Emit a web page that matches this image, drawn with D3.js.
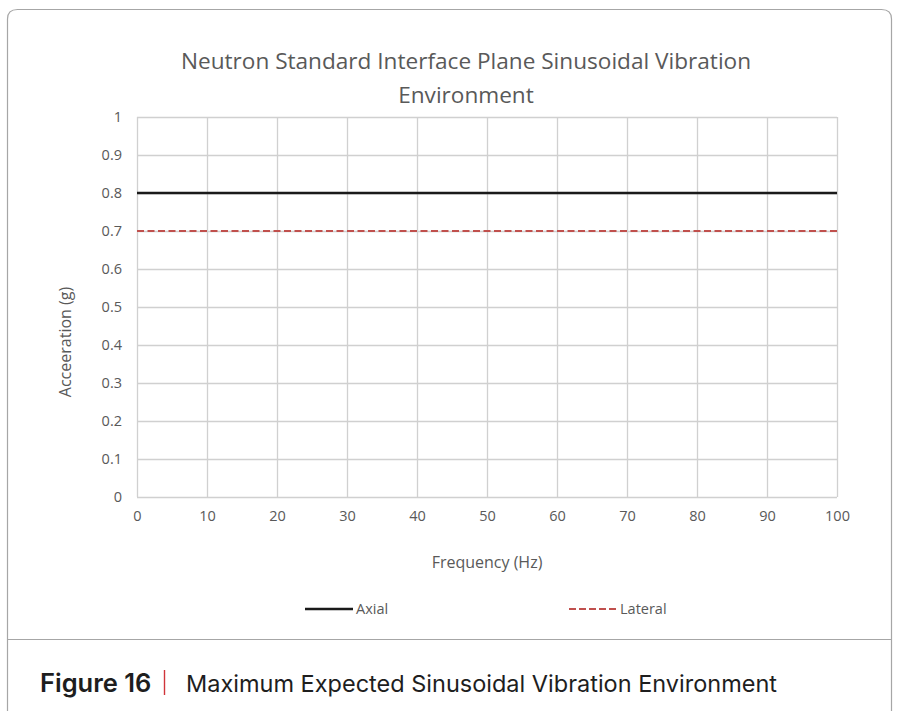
<!DOCTYPE html>
<html>
<head>
<meta charset="utf-8">
<script src="https://cdn.jsdelivr.net/npm/d3@7"></script>
<style>
  body { margin: 0; background: #fff; }
  svg { display: block; }
</style>
</head>
<body>
<svg id="chart" width="898" height="711"></svg>
<script>
// values
const freqHz = [0, 100];
const axial = [0.8, 0.8];
const lateral = [0.7, 0.7];
const xTicks = [0, 10, 20, 30, 40, 50, 60, 70, 80, 90, 100];
const yTicks = [0, 0.1, 0.2, 0.3, 0.4, 0.5, 0.6, 0.7, 0.8, 0.9, 1];
const seriesNames = ["Axial", "Lateral"];

const svg = d3.select("#chart");
const chartFont = "'Open Sans', 'Noto Sans', sans-serif";
const grey = "#595959";

// card outline + caption divider
svg.append("path")
   .attr("d", "M7.5,720 V19 Q7.5,9.5 17.5,9.5 H881.5 Q891.5,9.5 891.5,19 V720")
   .attr("fill", "none").attr("stroke", "#a6a6a6").attr("stroke-width", 1.2);
svg.append("line").attr("x1", 7.5).attr("x2", 891.5).attr("y1", 639.5).attr("y2", 639.5)
   .attr("stroke", "#a6a6a6").attr("stroke-width", 1.2);

const plotL = 137, plotR = 837, plotT = 117, plotB = 497;
const x = d3.scaleLinear().domain([0, 100]).range([plotL, plotR]);
const y = d3.scaleLinear().domain([0, 1]).range([plotB, plotT]);

// grid
svg.append("g").selectAll("line").data(yTicks).join("line")
   .attr("x1", plotL).attr("x2", plotR)
   .attr("y1", d => Math.round(y(d)) + 0.5).attr("y2", d => Math.round(y(d)) + 0.5)
   .attr("stroke", "#d0d0d0").attr("stroke-width", 1.3);
svg.append("g").selectAll("line").data(xTicks).join("line")
   .attr("y1", plotT).attr("y2", plotB)
   .attr("x1", d => Math.round(x(d)) + 0.5).attr("x2", d => Math.round(x(d)) + 0.5)
   .attr("stroke", "#d0d0d0").attr("stroke-width", 1.3);

// axes (labels only)
const yAxis = svg.append("g").attr("transform", `translate(${plotL},0)`)
   .call(d3.axisLeft(y).tickValues(yTicks).tickSize(0).tickPadding(15).tickFormat(d3.format("")));
const xAxis = svg.append("g").attr("transform", `translate(0,${plotB})`)
   .call(d3.axisBottom(x).tickValues(xTicks).tickSize(0).tickPadding(14));
[xAxis, yAxis].forEach(a => {
  a.select(".domain").remove();
  a.selectAll("text").attr("fill", grey).attr("font-size", 14.5).attr("font-family", chartFont);
});

// series
const line = d3.line().x((d, i) => x(freqHz[i])).y(d => y(d));
svg.append("path").datum(axial).attr("d", line)
   .attr("fill", "none").attr("stroke", "#1a1a1a").attr("stroke-width", 2.6);
svg.append("path").datum(lateral).attr("d", line)
   .attr("fill", "none").attr("stroke", "#c0504d").attr("stroke-width", 2)
   .attr("stroke-dasharray", "7,3.5");

// titles
const title = svg.append("text").attr("text-anchor", "middle").attr("fill", grey)
   .attr("font-family", chartFont).attr("font-size", 22.6);
title.append("tspan").attr("x", 466).attr("y", 69).text("Neutron Standard Interface Plane Sinusoidal Vibration");
title.append("tspan").attr("x", 466).attr("y", 103).text("Environment");

svg.append("text").attr("x", 487).attr("y", 568).attr("text-anchor", "middle")
   .attr("fill", grey).attr("font-family", chartFont).attr("font-size", 16)
   .text("Frequency (Hz)");
svg.append("text").attr("transform", "translate(71,342) rotate(-90)").attr("text-anchor", "middle")
   .attr("fill", grey).attr("font-family", chartFont).attr("font-size", 16)
   .text("Acceeration (g)");

// legend
const legendX = [305, 569];
const legend = svg.append("g").selectAll("g").data(seriesNames).join("g")
   .attr("transform", (d, i) => `translate(${legendX[i]},609)`);
legend.append("line").attr("x1", 0).attr("x2", 48).attr("y1", 0).attr("y2", 0)
   .attr("stroke", (d, i) => i ? "#c0504d" : "#1a1a1a")
   .attr("stroke-width", (d, i) => i ? 2 : 2.6)
   .attr("stroke-dasharray", (d, i) => i ? "7,3" : null);
legend.append("text").attr("x", 51).attr("y", 5).attr("fill", grey)
   .attr("font-family", chartFont).attr("font-size", 14.5).text(d => d);

// figure caption
const capFont = "Inter, 'Noto Sans', sans-serif";
svg.append("text").attr("x", 40).attr("y", 692)
   .attr("font-family", capFont).attr("font-size", 25.5).attr("font-weight", 600)
   .attr("fill", "#1e1e1e").text("Figure 16");
svg.append("line").attr("x1", 164.5).attr("x2", 164.5).attr("y1", 670).attr("y2", 695)
   .attr("stroke", "#d0343a").attr("stroke-width", 1.4);
svg.append("text").attr("x", 186).attr("y", 692)
   .attr("font-family", capFont).attr("font-size", 23.5).attr("fill", "#1e1e1e")
   .text("Maximum Expected Sinusoidal Vibration Environment");
</script>
</body>
</html>
